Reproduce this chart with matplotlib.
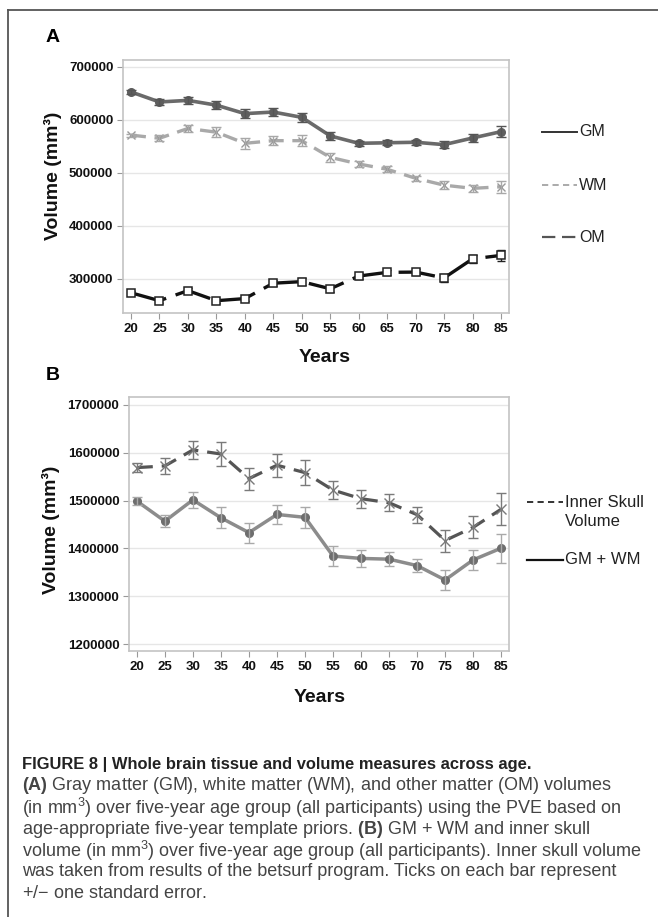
import numpy as np
import matplotlib
matplotlib.use('Agg')
import matplotlib.pyplot as plt
from matplotlib.lines import Line2D

plt.rcParams['mathtext.fontset'] = 'custom'
plt.rcParams['mathtext.rm'] = 'Liberation Sans'
plt.rcParams['mathtext.bf'] = 'Liberation Sans:bold'

# ---- data ----
years = [20, 25, 30, 35, 40, 45, 50, 55, 60, 65, 70, 75, 80, 85]

# panel A
gm = [653000, 634000, 637000, 628000, 612000, 615000, 605000, 570000, 556000, 557000, 558000, 553500, 566000, 578000]
gm_se = [4000, 6000, 6000, 8000, 8000, 7000, 8000, 7000, 5000, 5000, 5000, 7000, 7000, 10000]
wm = [571500, 565500, 584000, 577000, 556000, 561000, 561000, 529500, 517000, 507000, 490000, 477000, 471000, 474000]
wm_se = [3000, 6000, 7000, 10000, 10000, 9000, 10000, 8000, 6000, 6000, 5000, 8000, 6000, 11000]
om = [274000, 259000, 278000, 259000, 263000, 292000, 295000, 281500, 305500, 312500, 313000, 302000, 338000, 344500]
om_se = [4000, 4000, 5000, 4000, 5000, 6000, 6000, 6000, 5000, 5000, 5000, 8000, 7000, 10000]

# panel B
skull = [1569000, 1572500, 1606000, 1597500, 1546000, 1574000, 1558500, 1522000, 1504000, 1495500, 1470500, 1416500, 1444000, 1482000]
skull_se = [10000, 16000, 19000, 26000, 23000, 24000, 26000, 19000, 19000, 18000, 17000, 23000, 23000, 34000]
gmwm = [1499000, 1457000, 1501500, 1464000, 1433000, 1471000, 1465000, 1384000, 1379000, 1377500, 1364000, 1334000, 1376000, 1400500]
gmwm_se = [9000, 13000, 17000, 22000, 21000, 19000, 22000, 20000, 17000, 15000, 14000, 20000, 21000, 30000]

W, H = 658, 917
fig = plt.figure(figsize=(W / 100, H / 100), dpi=100)

def fx(px):
    return px / W

def fy(py):
    return 1 - py / H

tick_font = dict(family=['Liberation Sans Narrow', 'Liberation Sans'], weight='bold', size=9.5)


def style_axes(ax, yticks):
    ax.set_xlim(18.6, 86.4)
    ax.set_xticks(years)
    ax.set_yticks(yticks)
    ax.set_xticklabels([str(y) for y in years], **tick_font)
    ax.set_yticklabels([str(v) for v in yticks], **tick_font)
    ax.grid(axis='y', color='#e6e6e6', lw=1.0)
    ax.set_axisbelow(True)
    for s in ax.spines.values():
        s.set_color('#c4c4c4')
        s.set_linewidth(1.2)
    ax.tick_params(length=4, width=0.8, color='#999999', pad=3, labelcolor='#111111')


# ---------------- panel A ----------------
axA = fig.add_axes([fx(123), fy(313), fx(509) - fx(123), fy(60) - fy(313)])
axA.errorbar(years, wm, yerr=wm_se, fmt='none', ecolor='#a8a8a8', elinewidth=1, capsize=3.5, capthick=1, zorder=3)
axA.plot(years, wm, color='#a9a9a9', lw=2.4, ls=(0, (4.5, 2.6)), marker='x', ms=6,
         mec='#999999', mew=1, zorder=2)
axA.plot(years, gm, color='#6a6a6a', lw=2.6, marker='o', ms=5.5, mfc='#5e5e5e', mec='#5e5e5e', zorder=4)
axA.errorbar(years, gm, yerr=gm_se, fmt='none', ecolor='#555555', elinewidth=1, capsize=3.5, capthick=1, zorder=5)
axA.plot(years, om, color='#111111', lw=2.4, ls=(0, (11, 3)), zorder=4)
axA.errorbar(years, om, yerr=om_se, fmt='none', ecolor='#222222', elinewidth=1, capsize=3, capthick=1, zorder=5)
axA.plot(years, om, ls='none', marker='s', ms=5.5, mfc='white', mec='#222222', mew=1.1, zorder=6)
style_axes(axA, [300000, 400000, 500000, 600000, 700000])
axA.set_ylim(235800, 713200)

# ---------------- panel B ----------------
axB = fig.add_axes([fx(129), fy(651), fx(509) - fx(129), fy(397) - fy(651)])
axB.plot(years, skull, color='#555555', lw=2.3, ls=(0, (5, 2.8)), marker='x', ms=7,
         mec='#7a7a7a', mew=1, zorder=3)
axB.errorbar(years, skull, yerr=skull_se, fmt='none', ecolor='#7a7a7a', elinewidth=1, capsize=3.5, capthick=1, zorder=4)
axB.plot(years, gmwm, color='#8c8c8c', lw=2.5, marker='o', ms=5.5, mfc='#6e6e6e', mec='#6e6e6e', zorder=3)
axB.errorbar(years, gmwm, yerr=gmwm_se, fmt='none', ecolor='#a9a9a9', elinewidth=1, capsize=3.5, capthick=1, zorder=4)
style_axes(axB, [1200000, 1300000, 1400000, 1500000, 1600000, 1700000])
axB.set_ylim(1185400, 1716700)

# ---------------- axis titles / panel letters ----------------
lab_font = dict(family=['Liberation Sans', 'DejaVu Sans'], weight='bold', size=14, color='#111111')
fig.text(fx(53), fy(176), 'Volume (mm³)', rotation=90, ha='center', va='center', **lab_font)
fig.text(fx(51), fy(530), 'Volume (mm³)', rotation=90, ha='center', va='center', **lab_font)
fig.text(fx(325), fy(357), 'Years', ha='center', va='center', **lab_font)
fig.text(fx(320), fy(697), 'Years', ha='center', va='center', **lab_font)
fig.text(fx(46), fy(37), 'A', ha='left', va='center', family='Liberation Sans', weight='bold', size=14)
fig.text(fx(46), fy(376), 'B', ha='left', va='center', family='Liberation Sans', weight='bold', size=14)

# ---------------- legends ----------------
def leg(x0, x1, y, color, lw, ls, label, tx, font):
    fig.add_artist(Line2D([fx(x0), fx(x1)], [fy(y), fy(y)], transform=fig.transFigure,
                          color=color, lw=lw, ls=ls))
    if label:
        fig.text(fx(tx), fy(y), label, ha='left', va='center', color='#222222', **font)

legA = dict(family='Liberation Sans', size=11.5)
leg(542, 577, 132, '#333333', 1.4, '-', 'GM', 579, legA)
leg(542, 577, 185, '#aaaaaa', 1.4, (0, (3.2, 2.2)), 'WM', 579, legA)
leg(542, 577, 237, '#555555', 1.6, (0, (6, 3)), 'OM', 579, legA)

legB = dict(family=['Liberation Sans Narrow', 'Liberation Sans'], size=12)
leg(527, 563, 502, '#333333', 1.4, (0, (3.2, 2.2)), 'Inner Skull', 565, legB)
fig.text(fx(565), fy(522), 'Volume', ha='left', va='center', color='#222222', **legB)
leg(527, 563, 560, '#111111', 1.6, '-', 'GM + WM', 565, legB)

# ---------------- frame ----------------
fig.add_artist(Line2D([fx(8), 1.0], [fy(10), fy(10)], transform=fig.transFigure, color='#555555', lw=1.3))
fig.add_artist(Line2D([fx(8), fx(8)], [fy(10), 0.0], transform=fig.transFigure, color='#555555', lw=1.3))

# ---------------- caption ----------------
cap = dict(family='Liberation Sans', size=13, color='#444444', ha='left', va='center')
fig.text(fx(22), fy(764), 'FIGURE 8 | Whole brain tissue and volume measures across age.',
         family=['Liberation Sans Narrow', 'Liberation Sans'], weight='bold', size=11.9,
         color='#222222', ha='left', va='center')
lines = [
    r'$\mathbf{(A)}$ Gray matter (GM), white matter (WM), and other matter (OM) volumes',
    r'(in mm$^3$) over five-year age group (all participants) using the PVE based on',
    r'age-appropriate five-year template priors. $\mathbf{(B)}$ GM + WM and inner skull',
    r'volume (in mm$^3$) over five-year age group (all participants). Inner skull volume',
    r'was taken from results of the betsurf program. Ticks on each bar represent',
    r'+/$-$ one standard error.',
]
for i, t in enumerate(lines):
    fig.text(fx(22), fy(786 + i * 21.5), t, **cap)

fig.savefig('out.png', dpi=100)
